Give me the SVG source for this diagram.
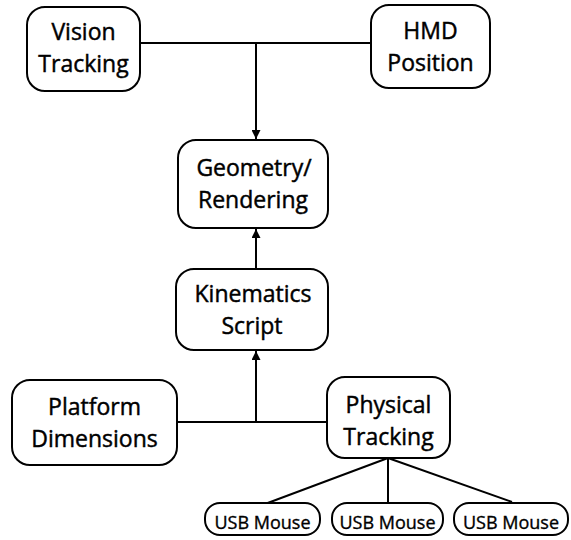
<svg xmlns="http://www.w3.org/2000/svg" width="571" height="540" viewBox="0 0 571 540">
  <style>
    .box { fill: #fff; stroke: #000; stroke-width: 2; }
    .lbl { font-family: "Open Sans", "Liberation Sans", sans-serif; font-size: 23px; fill: #000; stroke: #000; stroke-width: 0.45; text-anchor: middle; }
    .sm { font-family: "Open Sans", "Liberation Sans", sans-serif; font-size: 18px; fill: #000; stroke: #000; stroke-width: 0.35; text-anchor: middle; }
    .wire { fill: none; stroke: #000; stroke-width: 2; }
  </style>
  <defs>
    <marker id="arrow" viewBox="0 0 10 10" refX="10" refY="5" markerWidth="5" markerHeight="4.5" orient="auto" markerUnits="strokeWidth">
      <path d="M0,0 L10,5 L0,10 z" fill="#000"/>
    </marker>
  </defs>
  <rect width="571" height="540" fill="#fff"/>

  <g id="connectors">
    <line class="wire" x1="140" y1="43" x2="371" y2="43"/>
    <line class="wire" x1="256" y1="43" x2="256" y2="139" marker-end="url(#arrow)"/>
    <line class="wire" x1="256" y1="269" x2="256" y2="229" marker-end="url(#arrow)"/>
    <line class="wire" x1="177" y1="422" x2="327" y2="422"/>
    <line class="wire" x1="256" y1="422" x2="256" y2="351" marker-end="url(#arrow)"/>
    <line class="wire" x1="388" y1="458" x2="265" y2="504"/>
    <line class="wire" x1="388" y1="458" x2="388" y2="503"/>
    <line class="wire" x1="388" y1="458" x2="512" y2="502"/>
  </g>

  <g id="vision-tracking">
    <rect class="box" x="27" y="7" width="113" height="84" rx="18"/>
    <text class="lbl" x="83.5" y="40">Vision</text>
    <text class="lbl" x="83.5" y="72">Tracking</text>
  </g>
  <g id="hmd-position">
    <rect class="box" x="371" y="5" width="119" height="83" rx="18"/>
    <text class="lbl" x="430.5" y="39">HMD</text>
    <text class="lbl" x="430.5" y="71">Position</text>
  </g>
  <g id="geometry-rendering">
    <rect class="box" x="178" y="140" width="150" height="88" rx="18"/>
    <text class="lbl" x="254" y="176">Geometry/</text>
    <text class="lbl" x="253" y="208">Rendering</text>
  </g>
  <g id="kinematics-script">
    <rect class="box" x="176" y="269" width="152" height="81" rx="18"/>
    <text class="lbl" x="253" y="302">Kinematics</text>
    <text class="lbl" x="252" y="334">Script</text>
  </g>
  <g id="platform-dimensions">
    <rect class="box" x="12" y="380" width="165" height="85" rx="18"/>
    <text class="lbl" x="94.5" y="415">Platform</text>
    <text class="lbl" x="94.5" y="447">Dimensions</text>
  </g>
  <g id="physical-tracking">
    <rect class="box" x="327" y="377" width="123" height="81" rx="18"/>
    <text class="lbl" x="388.5" y="413">Physical</text>
    <text class="lbl" x="388.5" y="445">Tracking</text>
  </g>
  <g id="usb-mouse-1">
    <rect class="box" x="205" y="503" width="115" height="32" rx="15"/>
    <text class="sm" x="262.5" y="529">USB Mouse</text>
  </g>
  <g id="usb-mouse-2">
    <rect class="box" x="332" y="503" width="111" height="32" rx="15"/>
    <text class="sm" x="387.5" y="529">USB Mouse</text>
  </g>
  <g id="usb-mouse-3">
    <rect class="box" x="454" y="503" width="114" height="32" rx="15"/>
    <text class="sm" x="511" y="529">USB Mouse</text>
  </g>
</svg>
